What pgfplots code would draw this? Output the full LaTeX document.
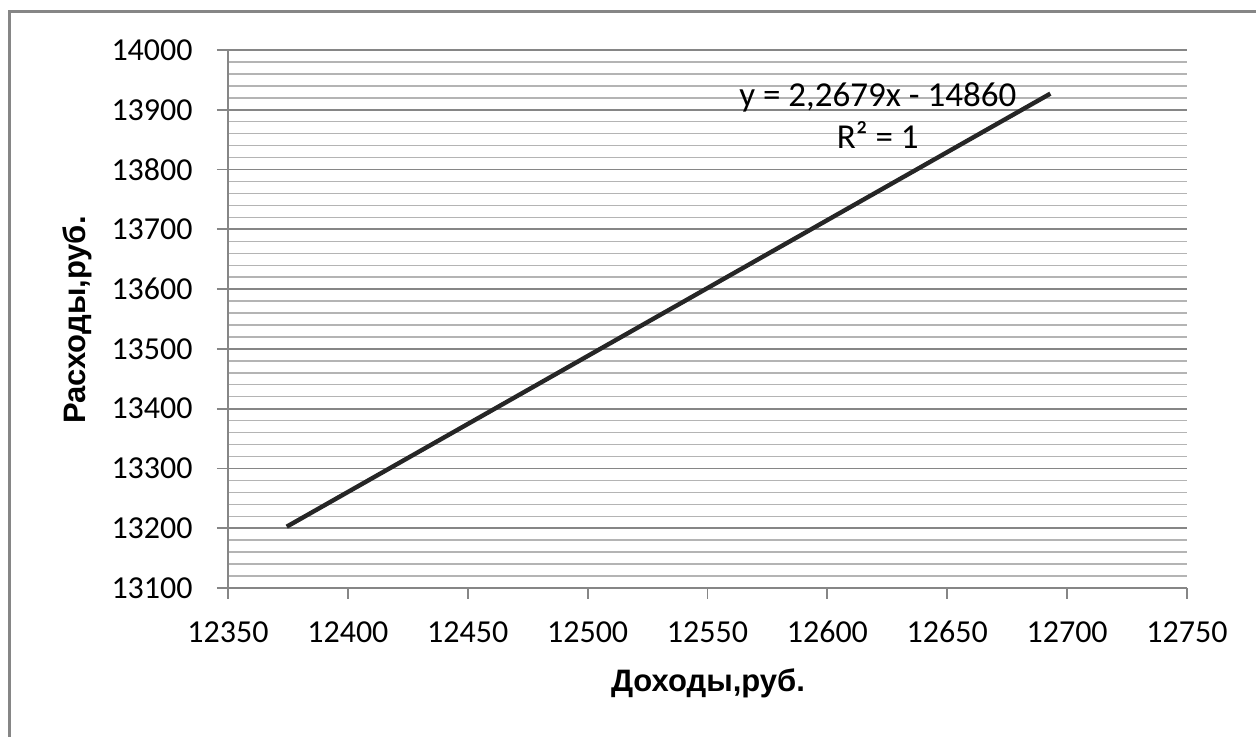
\documentclass[border=0pt]{standalone}
\usepackage{fontspec}
\setmainfont{Carlito}
\newfontfamily\labelfont{Liberation Sans}
\usepackage{pgfplots}
\pgfplotsset{compat=1.18}
\definecolor{axgray}{HTML}{868686}
\definecolor{mingray}{HTML}{B4B4B4}
\begin{document}
\begin{tikzpicture}
\path[use as bounding box] (-114pt,-74.5pt) rectangle (514pt,294pt);
\begin{axis}[
  at={(0,0)}, anchor=south west,
  scale only axis, width=479.5pt, height=269pt,
  xmin=12350, xmax=12750, ymin=13100, ymax=14000,
  xtick={12350,12400,12450,12500,12550,12600,12650,12700,12750},
  ytick={13100,13200,13300,13400,13500,13600,13700,13800,13900,14000},
  minor y tick num=4,
  scaled ticks=false,
  axis x line=bottom, axis y line=left,
  axis line style={axgray, line width=1pt, -},
  ymajorgrids, yminorgrids,
  major grid style={axgray, line width=0.9pt},
  minor grid style={mingray, line width=0.7pt},
  tick align=outside,
  major tick length=5.5pt, minor tick length=0pt,
  tick style={axgray, line width=0.9pt},
  /pgf/number format/fixed,
  /pgf/number format/precision=0,
  /pgf/number format/1000 sep={},
  /pgf/number format/assume math mode=true,
  ticklabel style={font=\fontsize{16}{19}\selectfont},
  yticklabel style={anchor=east, inner sep=0pt, xshift=-12pt},
  xticklabel style={anchor=base, inner sep=0pt, yshift=-21.5pt},
  xlabel={Доходы,руб.},
  ylabel={Расходы,руб.},
  xlabel style={font=\labelfont\bfseries\fontsize{15.5}{18}\selectfont, at={(axis description cs:0.5005,-0.1766)}, anchor=center},
  ylabel style={font=\labelfont\bfseries\fontsize{15.5}{18}\selectfont, at={(axis description cs:-0.1575,0.498)}, anchor=center},
  clip=false,
]
\addplot[black!85, line width=2.2pt] coordinates {
(12374.5, 13202.6)
(12693, 13927)
};
\node[font=\fontsize{17.5}{20}\selectfont] at (axis cs:12621,13920) {y = 2,2679x - 14860};
\node[font=\fontsize{17.5}{20}\selectfont] at (axis cs:12621,13858) {R² = 1};
\end{axis}
\draw[axgray, line width=1.5pt] (-109pt,-74.5pt) -- (-109pt,288pt) -- (514pt,288pt);
\end{tikzpicture}
\end{document}
